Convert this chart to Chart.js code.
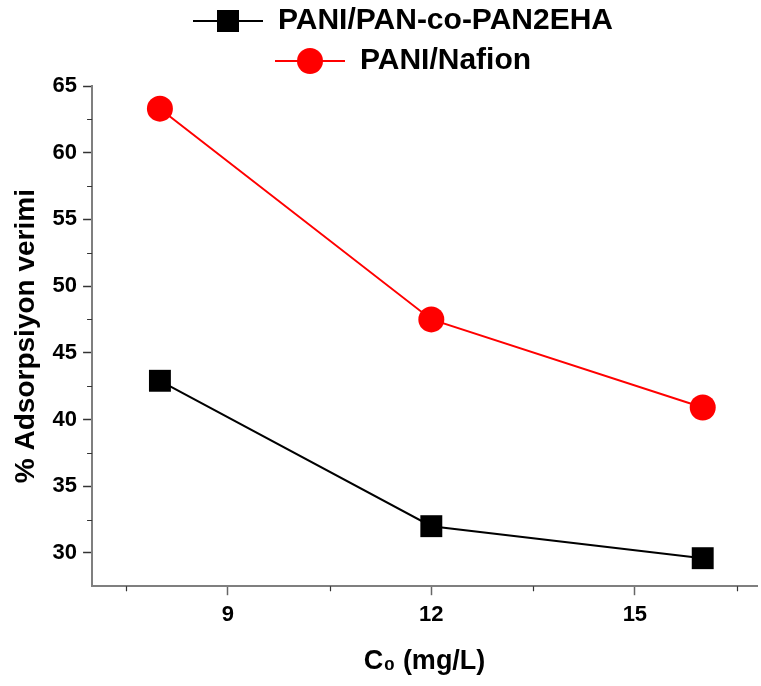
<!DOCTYPE html>
<html>
<head>
<meta charset="utf-8">
<script src="https://cdn.jsdelivr.net/npm/chart.js@4"></script>
<style>
  html, body { margin: 0; padding: 0; background: #fff; overflow: hidden; }
  #wrap { width: 761px; height: 686px; }
</style>
</head>
<body>
<div id="wrap"><canvas id="grafico"></canvas></div>
<script>
const concentracoes = [8, 12, 16];
const nomes = ['PANI/PAN-co-PAN2EHA', 'PANI/Nafion'];
const verimPAN = [42.9, 32.0, 29.6];
const verimNafion = [63.3, 47.5, 40.9];
const xTicks = [9, 12, 15];
const xMinor = [7.5, 10.5, 13.5, 16.5];
const yTicks = [30, 35, 40, 45, 50, 55, 60, 65];
const yMinor = [32.5, 37.5, 42.5, 47.5, 52.5, 57.5, 62.5];

const fonte = "'Liberation Sans', Arial, sans-serif";

// amostra da legenda: linha + marcador (a parte esquerda fica vazia)
function amostra(cor, forma, tam) {
    const c = document.createElement('canvas');
    c.width = 110;
    c.height = 30;
    const g = c.getContext('2d');
    g.strokeStyle = cor;
    g.lineWidth = 2;
    g.beginPath();
    g.moveTo(40, 15);
    g.lineTo(110, 15);
    g.stroke();
    g.fillStyle = cor;
    if (forma === 'rect') {
        g.fillRect(75 - tam / 2, 15 - tam / 2, tam, tam);
    } else {
        g.beginPath();
        g.arc(75, 15, tam / 2, 0, Math.PI * 2);
        g.fill();
    }
    return c;
}
const amostras = [amostra('#000000', 'rect', 22), amostra('#ff0000', 'circle', 26)];

// ticks menores curtos
const ticksMenores = {
    id: 'ticksMenores',
    afterDraw(chart) {
        const ctx = chart.ctx;
        const sx = chart.scales.x;
        const sy = chart.scales.y;
        ctx.save();
        ctx.strokeStyle = '#333';
        ctx.lineWidth = 1.2;
        ctx.beginPath();
        xMinor.forEach(v => {
            const px = Math.round(sx.getPixelForValue(v)) + 0.5;
            ctx.moveTo(px, sx.top);
            ctx.lineTo(px, sx.top + 5);
        });
        yMinor.forEach(v => {
            const py = Math.round(sy.getPixelForValue(v)) + 0.5;
            ctx.moveTo(sy.right - 5, py);
            ctx.lineTo(sy.right, py);
        });
        ctx.stroke();
        ctx.restore();
    }
};

const ctx = document.getElementById('grafico').getContext('2d');

const grafico = new Chart(ctx, {
    type: 'line',
    data: {
        datasets: [{
            label: nomes[0],
            data: concentracoes.map((x, i) => ({ x: x, y: verimPAN[i] })),
            borderColor: '#000000',
            backgroundColor: '#000000',
            borderWidth: 2,
            pointStyle: 'rect',
            pointRadius: 15.5,
            pointBorderWidth: 0,
            clip: false
        }, {
            label: nomes[1],
            data: concentracoes.map((x, i) => ({ x: x, y: verimNafion[i] })),
            borderColor: '#ff0000',
            backgroundColor: '#ff0000',
            borderWidth: 2,
            pointStyle: 'circle',
            pointRadius: 13,
            pointBorderWidth: 0,
            clip: false
        }]
    },
    options: {
        responsive: true,
        maintainAspectRatio: false,
        animation: false,
        layout: { autoPadding: false, padding: { top: -4, right: 4, left: 9, bottom: 8 } },
        plugins: {
            tooltip: { enabled: false },
            legend: {
                position: 'top',
                labels: {
                    usePointStyle: true,
                    pointStyleWidth: 110,
                    padding: 10,
                    color: '#000',
                    font: { family: fonte, size: 30, weight: 'bold' },
                    generateLabels: (chart) => chart.data.datasets.map((ds, i) => ({
                        text: ds.label,
                        pointStyle: amostras[i],
                        fontColor: '#000',
                        fillStyle: ds.borderColor,
                        strokeStyle: ds.borderColor,
                        lineWidth: 0,
                        hidden: false,
                        datasetIndex: i
                    }))
                }
            }
        },
        scales: {
            x: {
                type: 'linear',
                min: 7,
                max: 16.8,
                afterBuildTicks: (s) => { s.ticks = xTicks.map(v => ({ value: v })); },
                grid: { drawOnChartArea: false, tickLength: 9, tickColor: '#666', tickWidth: 1.5 },
                border: { color: '#7f7f7f', width: 2 },
                ticks: {
                    color: '#000',
                    padding: 7,
                    font: { family: fonte, size: 22, weight: 'bold' }
                },
                title: {
                    display: true,
                    text: 'C₀ (mg/L)',
                    color: '#000',
                    padding: { top: 10, bottom: 0 },
                    font: { family: fonte, size: 27, weight: 'bold' }
                }
            },
            y: {
                min: 27.5,
                max: 65,
                afterBuildTicks: (s) => { s.ticks = yTicks.map(v => ({ value: v })); },
                grid: { drawOnChartArea: false, tickLength: 9, tickColor: '#333', tickWidth: 1.5 },
                border: { color: '#7f7f7f', width: 2 },
                ticks: {
                    color: '#000',
                    padding: 6,
                    font: { family: fonte, size: 22, weight: 'bold' }
                },
                title: {
                    display: true,
                    text: '% Adsorpsiyon verimi',
                    color: '#000',
                    padding: { top: 0, bottom: 4 },
                    font: { family: fonte, size: 28, weight: 'bold' }
                }
            }
        }
    },
    plugins: [ticksMenores]
});
</script>
</body>
</html>
